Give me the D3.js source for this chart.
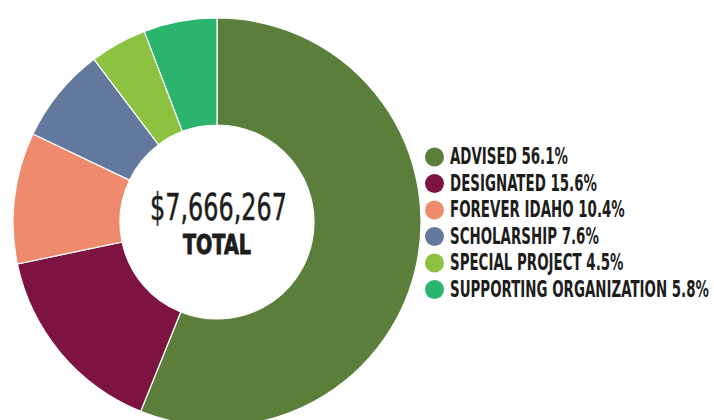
<!DOCTYPE html>
<html><head><meta charset="utf-8">
<script src="https://cdn.jsdelivr.net/npm/d3@7"></script>
<style>html,body{margin:0;padding:0;background:#fff;}svg{display:block;}</style>
</head><body>
<svg id="chart" width="714" height="420"></svg>
<script>
const categories = ["ADVISED","DESIGNATED","FOREVER IDAHO","SCHOLARSHIP","SPECIAL PROJECT","SUPPORTING ORGANIZATION"];
const values = [56.1, 15.6, 10.4, 7.6, 4.5, 5.8];
const colors = ["#5B7F3B","#7D1340","#EF8A6C","#62789C","#8CC23F","#2BB46E"];
const totalLabel = "$7,666,267";
const totalWord = "TOTAL";

const svg = d3.select("#chart");
const cx = 217, cy = 222, rOuter = 204, rInner = 97;
const font = "'Liberation Sans Narrow','DejaVu Sans Condensed','Roboto',sans-serif";

const pie = d3.pie().sort(null).value(d => d);
const arc = d3.arc().innerRadius(rInner).outerRadius(rOuter);
const g = svg.append("g").attr("transform", `translate(${cx},${cy})`);
g.selectAll("path").data(pie(values)).join("path")
  .attr("d", arc)
  .attr("fill", (d,i) => colors[i])
  .attr("stroke", "#fff").attr("stroke-width", 1.2);

function fitText(sel, w) {
  sel.attr("textLength", w).attr("lengthAdjust", "spacingAndGlyphs");
}
const t1 = g.append("text").attr("x", 1.5).attr("y", -2)
  .attr("text-anchor", "middle").attr("font-family", font)
  .attr("font-size", 37).attr("fill", "#1d1d1b")
  .attr("stroke", "#1d1d1b").attr("stroke-width", 0.5).text(totalLabel);
fitText(t1, 137);
const t2 = g.append("text").attr("x", 0).attr("y", 32)
  .attr("text-anchor", "middle").attr("font-family", "'DejaVu Sans','Liberation Sans',sans-serif")
  .attr("font-weight", "bold").attr("font-size", 27).attr("fill", "#1d1d1b")
  .attr("stroke", "#1d1d1b").attr("stroke-width", 1).text(totalWord);
fitText(t2, 68);

// legend
const y0 = 157, dy = 26.5;
const leg = svg.append("g");
const rows = leg.selectAll("g").data(categories).join("g")
  .attr("transform", (d,i) => `translate(0,${y0 + i*dy})`);
rows.append("circle").attr("cx", 434.5).attr("cy", 0).attr("r", 9.5)
  .attr("fill", (d,i) => colors[i]);
const texts = rows.append("text").attr("x", 0).attr("y", 7)
  .attr("font-family", font).attr("font-weight", "bold")
  .attr("font-size", 22.5).attr("fill", "#1d1d1b")
  .text((d,i) => `${d} ${values[i]}%`);
const longest = d3.max(texts.nodes(), n => n.getComputedTextLength());
const sx = 259 / longest;
texts.attr("transform", `translate(450,0) scale(${sx},1)`);
</script>
</body></html>
